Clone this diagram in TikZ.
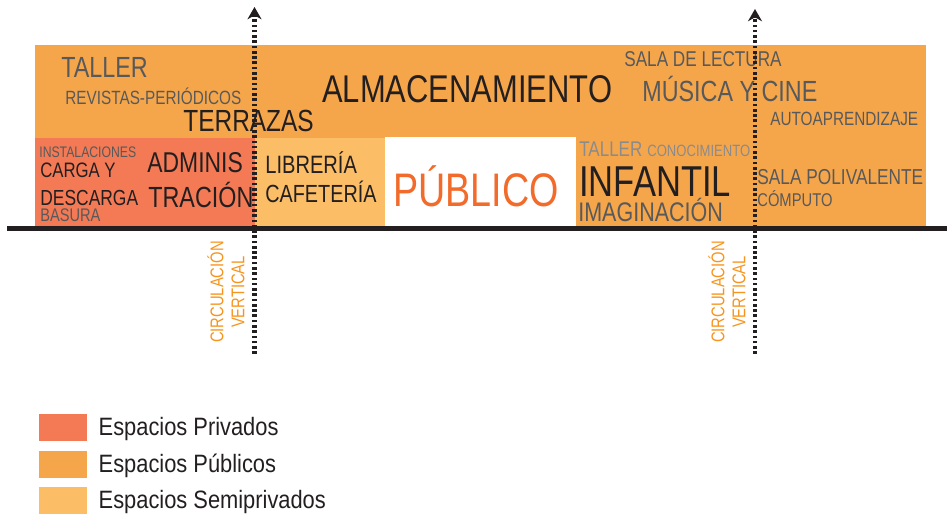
\documentclass[tikz,border=0pt]{standalone}
\usepackage{fontspec}
\setmainfont{Liberation Sans}[FakeStretch=0.8]
\newfontfamily\leyendafont{Liberation Sans}[FakeStretch=0.87]
\usetikzlibrary{positioning}
\usetikzlibrary{arrows.meta}
\definecolor{privado}{HTML}{F37A55}
\definecolor{publico}{HTML}{F6A64A}
\definecolor{semipriv}{HTML}{FBBE66}
\definecolor{tinta}{HTML}{231F20}
\definecolor{gris}{HTML}{58595B}
\definecolor{grisclaro}{HTML}{8A8B8D}
\definecolor{naranja}{HTML}{F26B2B}
\definecolor{circul}{HTML}{F7941D}
\tikzset{
    rotulo/.style = {inner sep=0pt, anchor=base west, text=tinta, font=\fontsize{#1}{#1}\selectfont},
    rotulog/.style = {rotulo=#1, text=gris},
    rotuloc/.style = {rotulo=#1, text=grisclaro},
    rotulon/.style = {rotulo=#1, text=naranja},
    circtext/.style = {inner sep=0pt, rotate=90, align=center, text=circul, font=\fontsize{10.5}{11.9}\selectfont},
    circline/.style = {line width=2.4pt, tinta, dash pattern=on 1.5pt off 1.5pt, -{Stealth[length=7pt,width=8pt]}},
    clave/.style = {minimum width=0.96cm, minimum height=0.54cm, inner sep=0pt},
    leyenda/.style = {inner sep=0pt, text height=0.4cm, text depth=0.06cm, text=tinta, font=\leyendafont\fontsize{14.3}{14.3}\selectfont}
}
\begin{document}
\begin{tikzpicture}[x=0.02cm, y=-0.02cm]
  \useasboundingbox (0,0) rectangle (947,526);

  % bloques
  \fill[publico] (35,45) rectangle (926,227);
  \fill[white] (385,137) rectangle (576,227);
  \fill[privado] (35,138) rectangle (255,227);
  \fill[semipriv] (255,138) rectangle (385,227);

  % franja superior
  \node[rotulog=16.6] (tallerA) at (61,78) {TALLER};
  \node[rotulog=10.9] (revistas) at (65,105) {REVISTAS-PERIÓDICOS};
  \node[rotulo=17.4] (terrazas) at (183,132) {TERRAZAS};
  \node[rotulo=22] (almacen) at (322,103) {ALMACENAMIENTO};
  \node[rotulog=12.2] (lectura) at (624,67) {SALA DE LECTURA};
  \node[rotulog=16.6] (musica) at (642,102) {MÚSICA Y CINE};
  \node[rotulog=10.9] (autoap) at (770,126) {AUTOAPRENDIZAJE};

  % franja inferior
  \node[rotulog=8.7] (instal) at (39,158) {INSTALACIONES};
  \node[rotulo=11.9] (carga) at (40,178) {CARGA Y};
  \node[rotulo=12.4] (descarga) at (40,206) {DESCARGA};
  \node[rotulog=10.4] (basura) at (40,222) {BASURA};
  \node[rotulo=16.3] (adminis) at (147,173) {ADMINIS};
  \node[rotulo=16.6] (tracion) at (148,208) {TRACIÓN};
  \node[rotulo=14.3] (libreria) at (265,174) {LIBRERÍA};
  \node[rotulo=14.1] (cafeteria) at (265,203) {CAFETERÍA};
  \node[rotulon=26.8] (publicotxt) at (393,207) {PÚBLICO};
  \node[rotuloc=12.1] (tallerB) at (579,157) {TALLER};
  \node[rotuloc=9.3] (conoc) at (647,157) {CONOCIMIENTO};
  \node[rotulo=24.6] (infantil) at (579,197) {INFANTIL};
  \node[rotulog=15.3] (imagin) at (578,222) {IMAGINACIÓN};
  \node[rotulog=12.3] (polival) at (757,185) {SALA POLIVALENTE};
  \node[rotulog=10.5] (computo) at (757,207) {CÓMPUTO};

  % suelo
  \draw[tinta, line width=2.8pt] (7,228.5) -- (947,228.5);

  % circulacion vertical
  \node[circtext] (circA) at (226,292) {CIRCULACIÓN\\VERTICAL};
  \node[circtext] (circB) at (727,292) {CIRCULACIÓN\\VERTICAL};
  \coordinate (circA-bot) at (254.5,354);
  \coordinate (circA-top) at (254.5,7);
  \coordinate (circB-bot) at (755,354);
  \coordinate (circB-top) at (755,9);
  \draw[circline] (circA-bot) -- (circA-top);
  \draw[circline] (circB-bot) -- (circB-top);

  % leyenda
  \node[clave, fill=privado] (claveA) at (63,427.5) {};
  \node[clave, fill=publico] (claveB) at (63,464.5) {};
  \node[clave, fill=semipriv] (claveC) at (63,500.5) {};
  \node[leyenda, right=0.22cm of claveA] (leyA) {Espacios Privados};
  \node[leyenda, right=0.22cm of claveB] (leyB) {Espacios Públicos};
  \node[leyenda, right=0.22cm of claveC] (leyC) {Espacios Semiprivados};

\end{tikzpicture}
\end{document}
